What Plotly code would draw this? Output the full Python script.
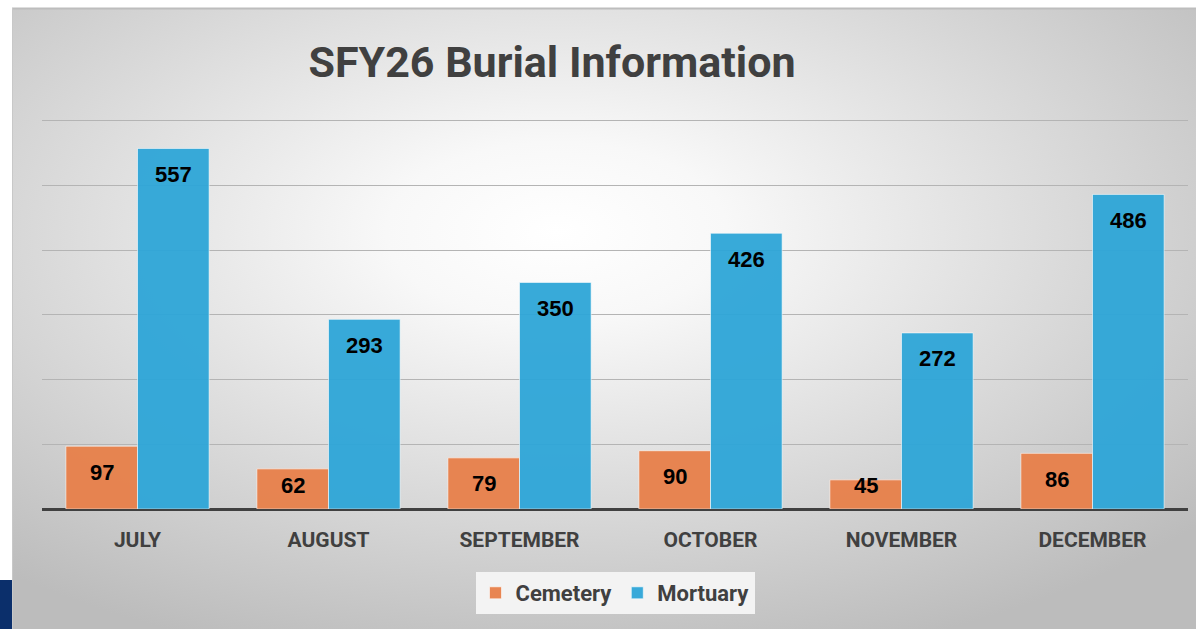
import base64
import plotly.graph_objects as go

# ---- data ----
months = ["JULY", "AUGUST", "SEPTEMBER", "OCTOBER", "NOVEMBER", "DECEMBER"]
cemetery = [97, 62, 79, 90, 45, 86]
mortuary = [557, 293, 350, 426, 272, 486]
series_names = ["Cemetery", "Mortuary"]
title_text = "SFY26 Burial Information"

# ---- layout geometry (screen pixels) ----
W, H = 1196, 629
ML, MR, MT, MB = 42, 8, 118, 120
PW, PH = W - ML - MR, H - MT - MB
BARGAP = 0.25
Y_RANGE_TOP = 604
LABEL_MIN = 77  # labels of short bars are kept clear of the baseline


def px_x(px):
    return (px - ML) / PW


def px_y(py):
    return (H - MB - py) / PH


ORANGE = "#E8804A"
BLUE = "#2EA6D8"
TEXT = "#404040"

svg = f"""<svg xmlns='http://www.w3.org/2000/svg' width='{W-12}' height='{H-8}' viewBox='0 0 {W-12} {H-8}' preserveAspectRatio='none'>
<defs><radialGradient id='g' cx='0.46' cy='0.36' r='0.72' fx='0.46' fy='0.36'>
<stop offset='0' stop-color='#ffffff'/><stop offset='0.2' stop-color='#f8f8f8'/>
<stop offset='1' stop-color='#bcbcbc'/></radialGradient></defs>
<rect x='0' y='0' width='{W-12}' height='{H-8}' fill='url(#g)'/>
</svg>"""
svg_uri = "data:image/svg+xml;base64," + base64.b64encode(svg.encode()).decode()

fig = go.Figure()
fig.add_trace(go.Bar(x=months, y=cemetery, name=series_names[0],
                     marker=dict(color=ORANGE, line=dict(color="rgba(255,255,255,0.6)", width=1)),
                     opacity=0.95, hoverinfo="x+y"))
fig.add_trace(go.Bar(x=months, y=mortuary, name=series_names[1],
                     marker=dict(color=BLUE, line=dict(color="rgba(255,255,255,0.6)", width=1)),
                     opacity=0.95, hoverinfo="x+y"))

# data labels, placed inside the top of each bar
cat_px = PW / len(months)
half_bar = cat_px * (1 - BARGAP) / 4
annotations = []
for vals, sh in ((cemetery, -half_bar), (mortuary, half_bar)):
    for m, v in zip(months, vals):
        annotations.append(dict(x=m, y=max(v, LABEL_MIN), xref="x", yref="y", text=f"<b>{v}</b>",
                                showarrow=False, xshift=sh, yshift=-26, yanchor="middle",
                                font=dict(family="Liberation Sans, Arial", size=22, color="#000000")))

shapes = [
    dict(type="line", xref="paper", yref="paper", x0=px_x(12), x1=px_x(W), y0=px_y(8.5), y1=px_y(8.5),
         line=dict(color="#bdbdbd", width=2)),
    dict(type="line", xref="paper", yref="paper", x0=px_x(12.5), x1=px_x(12.5), y0=px_y(8), y1=px_y(H),
         line=dict(color="#c8c8c8", width=1)),
    dict(type="rect", xref="paper", yref="paper", x0=px_x(0), x1=px_x(12), y0=px_y(580), y1=px_y(H),
         fillcolor="#0B2F6B", line=dict(width=0)),
]

fig.update_layout(
    width=W, height=H,
    margin=dict(l=ML, r=MR, t=MT, b=MB, pad=0),
    paper_bgcolor="#ffffff",
    plot_bgcolor="rgba(0,0,0,0)",
    barmode="group", bargap=BARGAP, bargroupgap=0.0,
    title=dict(text=title_text, x=552 / W, xanchor="center", y=1 - 62 / H, yanchor="middle",
               xref="container", yref="container",
               font=dict(family="Roboto", size=43, color=TEXT, weight="bold")),
    images=[dict(source=svg_uri, xref="paper", yref="paper", x=px_x(12), y=px_y(8),
                 sizex=(W - 12) / PW, sizey=(H - 8) / PH, xanchor="left", yanchor="top",
                 sizing="stretch", layer="below")],
    shapes=shapes,
    annotations=annotations,
    showlegend=True,
    legend=dict(orientation="h", x=0.5, xanchor="center", y=px_y(572), yanchor="top",
                bgcolor="#f3f3f3", font=dict(family="Roboto", size=22, color=TEXT, weight="bold"),
                itemwidth=30, traceorder="normal"),
    xaxis=dict(showgrid=False, showline=False, ticks="outside", ticklen=12,
               tickcolor="rgba(0,0,0,0)",
               tickfont=dict(family="Roboto", size=21, color=TEXT, weight="bold")),
    yaxis=dict(range=[0, Y_RANGE_TOP], dtick=100, showgrid=True, gridcolor="#b4b4b4", gridwidth=1,
               zeroline=True, zerolinecolor="#404040", zerolinewidth=3,
               showticklabels=False, ticks=""),
)

fig.write_html("out.html", config={"displayModeBar": False},
               post_script="document.body.style.margin='0';document.body.style.overflow='hidden';")
